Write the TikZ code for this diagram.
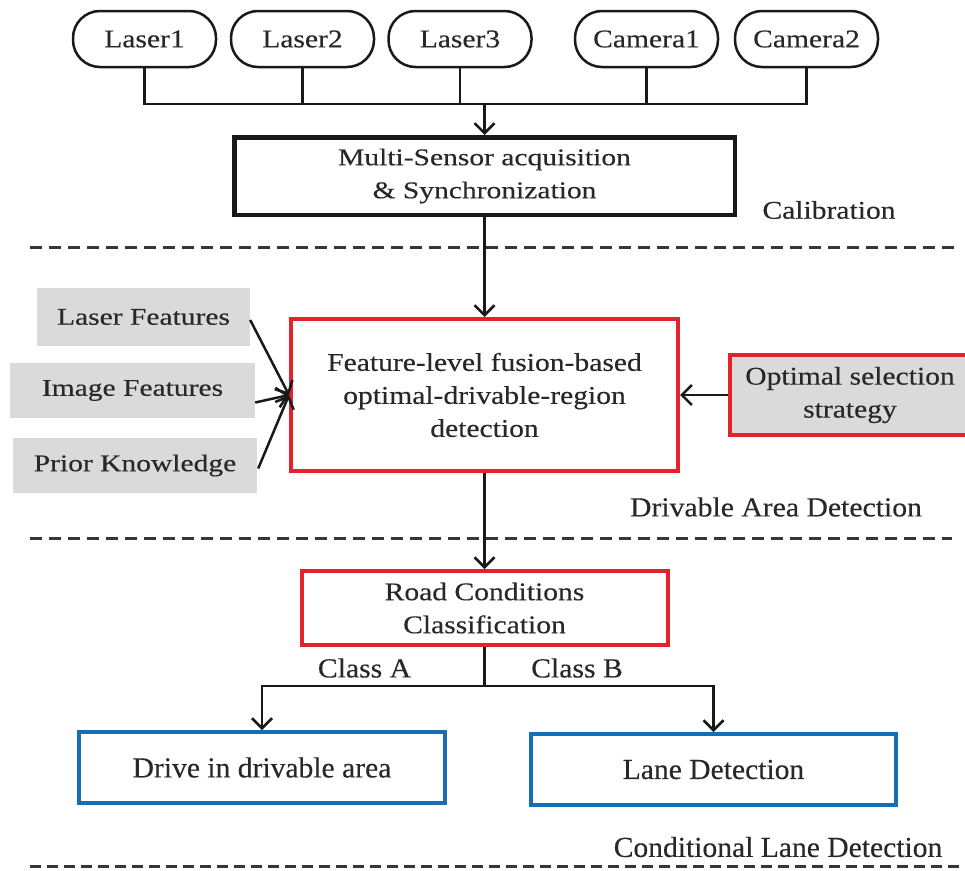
\documentclass[tikz,border=0pt]{standalone}
\usepackage{fontspec}
\setmainfont{Liberation Serif}
% Widened serif faces for the different label groups
\newfontfamily\serifWide[FakeStretch=1.23,FakeBold=0.3]{Liberation Serif}
\newfontfamily\serifMid[FakeStretch=1.16,FakeBold=0.3]{Liberation Serif}
\newfontfamily\serifSemi[FakeStretch=1.08,FakeBold=0.3]{Liberation Serif}
\newfontfamily\serifNorm[FakeStretch=1.02,FakeBold=0.3]{Liberation Serif}
\newcommand\txtWide{\serifWide\fontsize{24}{33}\selectfont}
\newcommand\txtMid{\serifMid\fontsize{25.5}{33}\selectfont}
\newcommand\txtSemi{\serifSemi\fontsize{27.5}{33}\selectfont}
\newcommand\txtNorm{\serifNorm\fontsize{29}{33}\selectfont}
\usetikzlibrary{arrows.meta,calc}

\definecolor{ink}{RGB}{25,25,25}
\definecolor{txt}{RGB}{40,40,40}
\definecolor{boxred}{RGB}{226,35,45}
\definecolor{boxblue}{RGB}{22,110,180}
\definecolor{featgray}{RGB}{218,218,218}
\definecolor{dashgray}{RGB}{55,55,55}

\begin{document}
\begin{tikzpicture}[x=1pt,y=-1pt,
  wire/.style={line width=2.5pt, draw=ink},
  arrow/.style={wire, -{Straight Barb[length=10pt,width=20pt,line width=2.5pt]}},
  sensor/.style={draw=ink, line width=2.5pt, rounded corners=27pt,
    minimum width=143pt, minimum height=56pt, inner sep=0pt,
    font=\txtMid, text=txt},
  blackbox/.style={draw=ink, line width=4.5pt, inner sep=0pt,
    align=center, text=txt},
  redbox/.style={draw=boxred, line width=4pt, inner sep=0pt,
    align=center, text=txt, font=\txtMid},
  bluebox/.style={draw=boxblue, line width=4pt, inner sep=0pt,
    align=center, text=txt, font=\txtNorm},
  graybox/.style={fill=featgray, inner sep=0pt, text=txt, font=\txtWide},
  stage/.style={text=txt, inner sep=0pt},
  divider/.style={line width=3pt, draw=dashgray, dash pattern=on 12pt off 7pt},
]
\clip (0,0) rectangle (965,870);
\fill[white] (0,0) rectangle (965,870);

% sensors
\node[sensor] (L1) at (144.5,39) {Laser1};
\node[sensor] (L2) at (302.5,39) {Laser2};
\node[sensor] (L3) at (460,39)   {Laser3};
\node[sensor] (C1) at (646.5,39) {Camera1};
\node[sensor] (C2) at (806.5,39) {Camera2};
\coordinate (bus) at (484.5,104);

% acquisition
\node[blackbox, minimum width=500.5pt, minimum height=77.5pt, font=\txtWide]
  (ms) at (484.5,176) {Multi-Sensor acquisition\\\& Synchronization};
\node[stage, font=\txtMid] (calib) at (829,210) {Calibration};

% drivable area stage
\node[redbox, minimum width=387pt, minimum height=152pt]
  (feat) at (484.5,395) {Feature-level fusion-based\\optimal-drivable-region\\detection};
\node[graybox, minimum width=213pt, minimum height=58pt] (lf) at (143.5,317) {Laser Features};
\node[graybox, minimum width=245pt, minimum height=55pt] (imf) at (132.5,390.5) {Image Features};
\node[graybox, minimum width=244pt, minimum height=55pt] (pk) at (135,465.5) {Prior Knowledge};
\node[redbox, fill=featgray, minimum width=240pt, minimum height=80pt]
  (opt) at (850,395) {Optimal selection\\strategy};
\node[stage, font=\txtSemi] (das) at (776,507) {Drivable Area Detection};

% lane detection stage
\node[redbox, minimum width=366pt, minimum height=74pt]
  (rc) at (484.5,608) {Road Conditions\\Classification};
\coordinate (split) at (484.5,686);
\node[bluebox, minimum width=366pt, minimum height=71pt] (drive) at (262,767.5) {Drive in drivable area};
\node[bluebox, minimum width=365pt, minimum height=71pt] (lane) at (713.5,769.5) {Lane Detection};
\node[stage, font=\txtSemi] (ca) at (364.5,668) {Class A};
\node[stage, font=\txtSemi] (cb) at (577,668) {Class B};
\node[stage, font=\txtNorm] (cld) at (778,847) {Conditional Lane Detection};

% stage dividers
\draw[divider] (30,247) -- (955,247);
\draw[divider] (30,538) -- (952,538);
\draw[divider, dash pattern=on 11pt off 6pt] (30,866) -- (960,866);

% sensor bus
\draw[wire] (L1.south) -- (L1.south |- bus) -- (C2.south |- bus) -- (C2.south);
\foreach \s in {L2,L3,C1} \draw[wire] (\s.south) -- (\s.south |- bus);
\draw[arrow] (bus) -- (ms.north);

% main flow
\draw[arrow] (ms.south) -- (feat.north);
\draw[arrow] ($(lf.east)+(0,3)$) -- (feat.west);
\draw[arrow] ($(imf.east)+(0,12)$) -- (feat.west);
\draw[arrow] ($(pk.east)+(1,3)$) -- (feat.west);
\draw[arrow] (opt.west) -- (feat.east);
\draw[arrow] (feat.south) -- (rc.north);

% classification split
\draw[wire] (rc.south) -- (split);
\draw[arrow] (split) -| (drive.north);
\draw[arrow] (split) -| (lane.north);
\end{tikzpicture}
\end{document}
